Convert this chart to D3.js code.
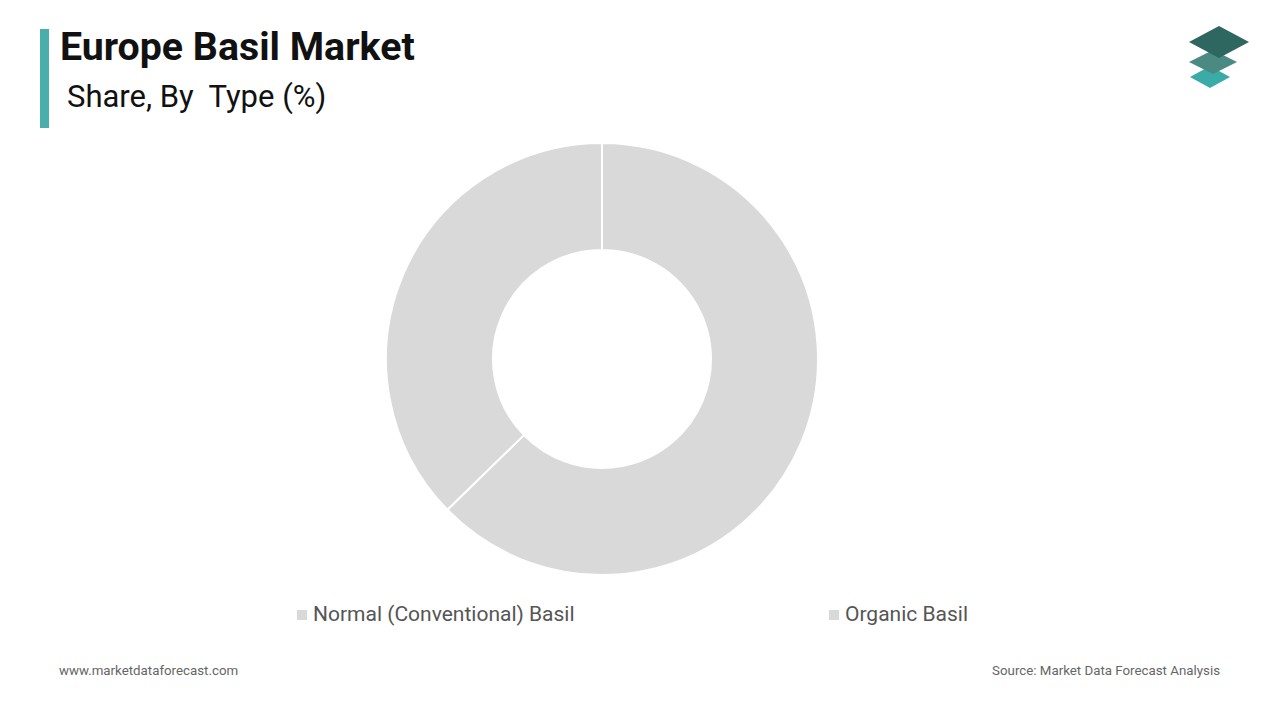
<!DOCTYPE html>
<html><head><meta charset="utf-8">
<script src="https://cdn.jsdelivr.net/npm/d3@7"></script>
<style>body{margin:0;background:#fff;font-family:Roboto,sans-serif}text{white-space:pre}</style>
</head><body><svg id="c" width="1280" height="720"></svg>
<script>
const categories = ["Normal (Conventional) Basil", "Organic Basil"];
const values = [62.7, 37.3];
const colors = ["#d9d9d9", "#d9d9d9"];

const svg = d3.select("#c");
svg.append("rect").attr("x",40).attr("y",29).attr("width",9).attr("height",99).attr("fill","#4aaeaa");
svg.append("text").attr("x",60).attr("y",60).attr("font-size",39.3).attr("font-weight",700).attr("fill","#111").text("Europe Basil Market");
svg.append("text").attr("x",67).attr("y",107).attr("font-size",31).attr("fill","#111").text("Share, By  Type (%)");

// logo
const lg = svg.append("g");
[[1210,77,"#3aaba7",20,11],[1213,62,"#4b8a82",24,12],[1219,42,"#2e6660",30,16]].forEach(([x,y,c,w,h])=>{
  lg.append("path").attr("d",`M${x-w},${y} L${x},${y-h} L${x+w},${y} L${x},${y+h} Z`).attr("fill",c);
});

const cx=602, cy=359, R=216, r=109;
const pie = d3.pie().sort(null).value(d=>d);
const arc = d3.arc().innerRadius(r).outerRadius(R);
svg.append("g").attr("transform",`translate(${cx},${cy})`)
  .selectAll("path").data(pie(values)).join("path")
  .attr("d",arc).attr("fill",(d,i)=>colors[i]).attr("stroke","#fff").attr("stroke-width",2);

const lx=[297,829];
categories.forEach((c,i)=>{
  svg.append("rect").attr("x",lx[i]).attr("y",610).attr("width",10).attr("height",10).attr("fill",colors[i]);
  svg.append("text").attr("x",lx[i]+16).attr("y",621).attr("font-size",21).attr("fill","#555").text(c);
});
svg.append("text").attr("x",59).attr("y",675).attr("font-size",13.3).attr("fill","#666").text("www.marketdataforecast.com");
svg.append("text").attr("x",1220).attr("y",675).attr("text-anchor","end").attr("font-size",13.3).attr("fill","#666").text("Source: Market Data Forecast Analysis");
</script></body></html>
